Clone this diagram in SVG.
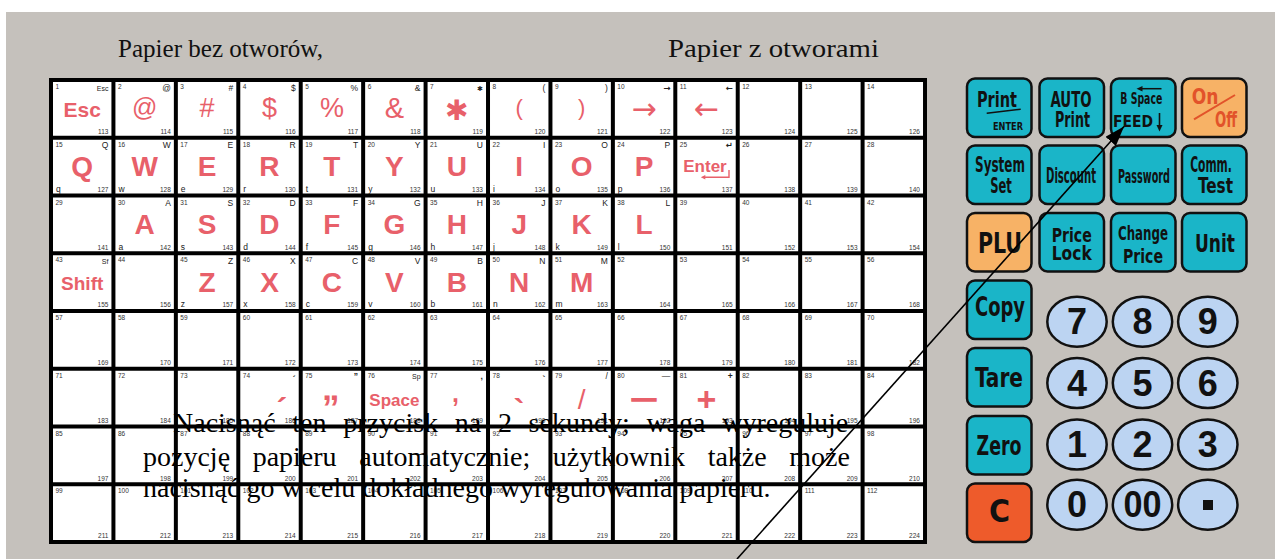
<svg xmlns="http://www.w3.org/2000/svg" xmlns:xlink="http://www.w3.org/1999/xlink" width="1275" height="559" viewBox="0 0 1275 559">
<style>
.n{font-family:'Liberation Sans',Arial,sans-serif;font-size:6.5px;fill:#333}
.e{text-anchor:end}
.t{font-family:'Liberation Sans',Arial,sans-serif;font-size:8.5px;fill:#222;text-anchor:end}
.l{font-family:'Liberation Sans',Arial,sans-serif;font-size:8.5px;fill:#222}
.b{font-family:'Liberation Sans',Arial,sans-serif;font-weight:bold;font-size:28px;fill:#e8606a;text-anchor:middle}
.s{font-family:'Liberation Sans',Arial,sans-serif;font-size:27px;fill:#e8606a;text-anchor:middle}
.d{font-family:'DejaVu Sans',sans-serif;fill:#e8606a;text-anchor:middle}
.ttl{font-family:'Liberation Serif','Times New Roman',serif;font-size:25px;fill:#111}
.para{font-family:'Liberation Serif','Times New Roman',serif;font-size:28px;fill:#000}
.btn{stroke:#111;stroke-width:2.5}
.cy{fill:#1ab5c8}
.or{fill:#f7b266}
.rd{fill:#ee5b2b}
.bt{font-family:'Liberation Sans Narrow','DejaVu Sans Condensed','Liberation Sans',sans-serif;font-weight:bold;fill:#111;text-anchor:middle}
.num{fill:#bcd4f2;stroke:#111;stroke-width:2.5}
.dg{font-family:'Liberation Sans',Arial,sans-serif;font-weight:bold;font-size:36px;fill:#111;text-anchor:middle}
.con{stroke:#000;stroke-width:1.6;fill:none}
</style>
<defs>
<rect id="cb" x="2" y="2" width="58.43" height="53.75" fill="#fff"/>
<marker id="ah" markerUnits="userSpaceOnUse" markerWidth="22" markerHeight="16" refX="20" refY="7" orient="auto">
<path d="M0,0 L20,7 L0,14 z" fill="#000"/>
</marker>
</defs>
<rect x="0" y="0" width="1275" height="559" fill="#fff"/>
<rect x="6" y="12" width="1269" height="547" fill="#c5c1bc"/>
<text class="ttl" x="118" y="57" textLength="205" lengthAdjust="spacingAndGlyphs">Papier bez otworów,</text>
<text class="ttl" x="668" y="57" textLength="211" lengthAdjust="spacingAndGlyphs">Papier z otworami</text>
<rect x="49" y="78" width="878" height="466" fill="#000"/>
<g id="keys">
<g id="k1" transform="translate(51,80)"><use href="#cb"/><text class="n" x="4.5" y="9">1</text><text class="n e" x="57.4" y="54">113</text><text class="t" x="57.4" y="10.5" style="font-size:7px">Esc</text><text class="b" x="31.2" y="36.7" style="font-size:21px">Esc</text></g>
<g id="k2" transform="translate(113.43,80)"><use href="#cb"/><text class="n" x="4.5" y="9">2</text><text class="n e" x="57.4" y="54">114</text><text class="t" x="57.4" y="10.5">@</text><text class="s" x="31.2" y="36" style="font-size:25px">@</text></g>
<g id="k3" transform="translate(175.86,80)"><use href="#cb"/><text class="n" x="4.5" y="9">3</text><text class="n e" x="57.4" y="54">115</text><text class="t" x="57.4" y="10.5">#</text><text class="s" x="31.2" y="36.7">#</text></g>
<g id="k4" transform="translate(238.29,80)"><use href="#cb"/><text class="n" x="4.5" y="9">4</text><text class="n e" x="57.4" y="54">116</text><text class="t" x="57.4" y="10.5">$</text><text class="s" x="31.2" y="37">$</text></g>
<g id="k5" transform="translate(300.72,80)"><use href="#cb"/><text class="n" x="4.5" y="9">5</text><text class="n e" x="57.4" y="54">117</text><text class="t" x="57.4" y="10.5">%</text><text class="s" x="31.2" y="36.7">%</text></g>
<g id="k6" transform="translate(363.15,80)"><use href="#cb"/><text class="n" x="4.5" y="9">6</text><text class="n e" x="57.4" y="54">118</text><text class="t" x="57.4" y="10.5">&amp;</text><text class="s" x="31.2" y="38" style="font-size:29px">&amp;</text></g>
<g id="k7" transform="translate(425.58,80)"><use href="#cb"/><text class="n" x="4.5" y="9">7</text><text class="n e" x="57.4" y="54">119</text><text class="t" x="57.4" y="10.5" style="font-family:'DejaVu Sans';font-size:7px">✱</text><text class="d" x="31.2" y="40" style="font-size:28px">✱</text></g>
<g id="k8" transform="translate(488.01,80)"><use href="#cb"/><text class="n" x="4.5" y="9">8</text><text class="n e" x="57.4" y="54">120</text><text class="t" x="57.4" y="10.5">(</text><text class="s" x="31.2" y="35.4" style="font-size:22px">(</text></g>
<g id="k9" transform="translate(550.44,80)"><use href="#cb"/><text class="n" x="4.5" y="9">9</text><text class="n e" x="57.4" y="54">121</text><text class="t" x="57.4" y="10.5">)</text><text class="s" x="31.2" y="35.4" style="font-size:22px">)</text></g>
<g id="k10" transform="translate(612.87,80)"><use href="#cb"/><text class="n" x="4.5" y="9">10</text><text class="n e" x="57.4" y="54">122</text><text class="t" x="57.4" y="10.5" style="font-family:'DejaVu Sans';font-weight:bold">→</text><text class="d" x="31.2" y="39" style="font-size:30px">→</text></g>
<g id="k11" transform="translate(675.3,80)"><use href="#cb"/><text class="n" x="4.5" y="9">11</text><text class="n e" x="57.4" y="54">123</text><text class="t" x="57.4" y="10.5" style="font-family:'DejaVu Sans';font-weight:bold">←</text><text class="d" x="31.2" y="39" style="font-size:30px">←</text></g>
<g id="k12" transform="translate(737.73,80)"><use href="#cb"/><text class="n" x="4.5" y="9">12</text><text class="n e" x="57.4" y="54">124</text></g>
<g id="k13" transform="translate(800.16,80)"><use href="#cb"/><text class="n" x="4.5" y="9">13</text><text class="n e" x="57.4" y="54">125</text></g>
<g id="k14" transform="translate(862.59,80)"><use href="#cb"/><text class="n" x="4.5" y="9">14</text><text class="n e" x="57.4" y="54">126</text></g>

<g id="k15" transform="translate(51,137.75)"><use href="#cb"/><text class="n" x="4.5" y="9">15</text><text class="n e" x="57.4" y="54">127</text><text class="t" x="57.4" y="10.5">Q</text><text class="l" x="5" y="54">q</text><text class="b" x="31.2" y="38.5">Q</text></g>
<g id="k16" transform="translate(113.43,137.75)"><use href="#cb"/><text class="n" x="4.5" y="9">16</text><text class="n e" x="57.4" y="54">128</text><text class="t" x="57.4" y="10.5">W</text><text class="l" x="5" y="54">w</text><text class="b" x="31.2" y="38.5">W</text></g>
<g id="k17" transform="translate(175.86,137.75)"><use href="#cb"/><text class="n" x="4.5" y="9">17</text><text class="n e" x="57.4" y="54">129</text><text class="t" x="57.4" y="10.5">E</text><text class="l" x="5" y="54">e</text><text class="b" x="31.2" y="38.5">E</text></g>
<g id="k18" transform="translate(238.29,137.75)"><use href="#cb"/><text class="n" x="4.5" y="9">18</text><text class="n e" x="57.4" y="54">130</text><text class="t" x="57.4" y="10.5">R</text><text class="l" x="5" y="54">r</text><text class="b" x="31.2" y="38.5">R</text></g>
<g id="k19" transform="translate(300.72,137.75)"><use href="#cb"/><text class="n" x="4.5" y="9">19</text><text class="n e" x="57.4" y="54">131</text><text class="t" x="57.4" y="10.5">T</text><text class="l" x="5" y="54">t</text><text class="b" x="31.2" y="38.5">T</text></g>
<g id="k20" transform="translate(363.15,137.75)"><use href="#cb"/><text class="n" x="4.5" y="9">20</text><text class="n e" x="57.4" y="54">132</text><text class="t" x="57.4" y="10.5">Y</text><text class="l" x="5" y="54">y</text><text class="b" x="31.2" y="38.5">Y</text></g>
<g id="k21" transform="translate(425.58,137.75)"><use href="#cb"/><text class="n" x="4.5" y="9">21</text><text class="n e" x="57.4" y="54">133</text><text class="t" x="57.4" y="10.5">U</text><text class="l" x="5" y="54">u</text><text class="b" x="31.2" y="38.5">U</text></g>
<g id="k22" transform="translate(488.01,137.75)"><use href="#cb"/><text class="n" x="4.5" y="9">22</text><text class="n e" x="57.4" y="54">134</text><text class="t" x="57.4" y="10.5">I</text><text class="l" x="5" y="54">i</text><text class="b" x="31.2" y="38.5">I</text></g>
<g id="k23" transform="translate(550.44,137.75)"><use href="#cb"/><text class="n" x="4.5" y="9">23</text><text class="n e" x="57.4" y="54">135</text><text class="t" x="57.4" y="10.5">O</text><text class="l" x="5" y="54">o</text><text class="b" x="31.2" y="38.5">O</text></g>
<g id="k24" transform="translate(612.87,137.75)"><use href="#cb"/><text class="n" x="4.5" y="9">24</text><text class="n e" x="57.4" y="54">136</text><text class="t" x="57.4" y="10.5">P</text><text class="l" x="5" y="54">p</text><text class="b" x="31.2" y="38.5">P</text></g>
<g id="k25" transform="translate(675.3,137.75)"><use href="#cb"/><text class="n" x="4.5" y="9">25</text><text class="n e" x="57.4" y="54">137</text><text class="t" x="57.4" y="10.5" style="font-family:'DejaVu Sans';font-weight:bold">↵</text><text class="b" x="29.7" y="34" style="font-size:17px">Enter</text><path d="M28,39.5 H53.7 V32.3" fill="none" stroke="#e8606a" stroke-width="1.4"/><path d="M25.5,39.5 L30,37.3 L30,41.7 z" fill="#e8606a"/></g>
<g id="k26" transform="translate(737.73,137.75)"><use href="#cb"/><text class="n" x="4.5" y="9">26</text><text class="n e" x="57.4" y="54">138</text></g>
<g id="k27" transform="translate(800.16,137.75)"><use href="#cb"/><text class="n" x="4.5" y="9">27</text><text class="n e" x="57.4" y="54">139</text></g>
<g id="k28" transform="translate(862.59,137.75)"><use href="#cb"/><text class="n" x="4.5" y="9">28</text><text class="n e" x="57.4" y="54">140</text></g>

<g id="k29" transform="translate(51,195.5)"><use href="#cb"/><text class="n" x="4.5" y="9">29</text><text class="n e" x="57.4" y="54">141</text></g>
<g id="k30" transform="translate(113.43,195.5)"><use href="#cb"/><text class="n" x="4.5" y="9">30</text><text class="n e" x="57.4" y="54">142</text><text class="t" x="57.4" y="10.5">A</text><text class="l" x="5" y="54">a</text><text class="b" x="31.2" y="38.5">A</text></g>
<g id="k31" transform="translate(175.86,195.5)"><use href="#cb"/><text class="n" x="4.5" y="9">31</text><text class="n e" x="57.4" y="54">143</text><text class="t" x="57.4" y="10.5">S</text><text class="l" x="5" y="54">s</text><text class="b" x="31.2" y="38.5">S</text></g>
<g id="k32" transform="translate(238.29,195.5)"><use href="#cb"/><text class="n" x="4.5" y="9">32</text><text class="n e" x="57.4" y="54">144</text><text class="t" x="57.4" y="10.5">D</text><text class="l" x="5" y="54">d</text><text class="b" x="31.2" y="38.5">D</text></g>
<g id="k33" transform="translate(300.72,195.5)"><use href="#cb"/><text class="n" x="4.5" y="9">33</text><text class="n e" x="57.4" y="54">145</text><text class="t" x="57.4" y="10.5">F</text><text class="l" x="5" y="54">f</text><text class="b" x="31.2" y="38.5">F</text></g>
<g id="k34" transform="translate(363.15,195.5)"><use href="#cb"/><text class="n" x="4.5" y="9">34</text><text class="n e" x="57.4" y="54">146</text><text class="t" x="57.4" y="10.5">G</text><text class="l" x="5" y="54">g</text><text class="b" x="31.2" y="38.5">G</text></g>
<g id="k35" transform="translate(425.58,195.5)"><use href="#cb"/><text class="n" x="4.5" y="9">35</text><text class="n e" x="57.4" y="54">147</text><text class="t" x="57.4" y="10.5">H</text><text class="l" x="5" y="54">h</text><text class="b" x="31.2" y="38.5">H</text></g>
<g id="k36" transform="translate(488.01,195.5)"><use href="#cb"/><text class="n" x="4.5" y="9">36</text><text class="n e" x="57.4" y="54">148</text><text class="t" x="57.4" y="10.5">J</text><text class="l" x="5" y="54">j</text><text class="b" x="31.2" y="38.5">J</text></g>
<g id="k37" transform="translate(550.44,195.5)"><use href="#cb"/><text class="n" x="4.5" y="9">37</text><text class="n e" x="57.4" y="54">149</text><text class="t" x="57.4" y="10.5">K</text><text class="l" x="5" y="54">k</text><text class="b" x="31.2" y="38.5">K</text></g>
<g id="k38" transform="translate(612.87,195.5)"><use href="#cb"/><text class="n" x="4.5" y="9">38</text><text class="n e" x="57.4" y="54">150</text><text class="t" x="57.4" y="10.5">L</text><text class="l" x="5" y="54">l</text><text class="b" x="31.2" y="38.5">L</text></g>
<g id="k39" transform="translate(675.3,195.5)"><use href="#cb"/><text class="n" x="4.5" y="9">39</text><text class="n e" x="57.4" y="54">151</text></g>
<g id="k40" transform="translate(737.73,195.5)"><use href="#cb"/><text class="n" x="4.5" y="9">40</text><text class="n e" x="57.4" y="54">152</text></g>
<g id="k41" transform="translate(800.16,195.5)"><use href="#cb"/><text class="n" x="4.5" y="9">41</text><text class="n e" x="57.4" y="54">153</text></g>
<g id="k42" transform="translate(862.59,195.5)"><use href="#cb"/><text class="n" x="4.5" y="9">42</text><text class="n e" x="57.4" y="54">154</text></g>

<g id="k43" transform="translate(51,253.25)"><use href="#cb"/><text class="n" x="4.5" y="9">43</text><text class="n e" x="57.4" y="54">155</text><text class="t" x="57.4" y="10.5" style="font-size:7px">Sf</text><text class="b" x="31.2" y="36.7" style="font-size:19px">Shift</text></g>
<g id="k44" transform="translate(113.43,253.25)"><use href="#cb"/><text class="n" x="4.5" y="9">44</text><text class="n e" x="57.4" y="54">156</text></g>
<g id="k45" transform="translate(175.86,253.25)"><use href="#cb"/><text class="n" x="4.5" y="9">45</text><text class="n e" x="57.4" y="54">157</text><text class="t" x="57.4" y="10.5">Z</text><text class="l" x="5" y="54">z</text><text class="b" x="31.2" y="38.5">Z</text></g>
<g id="k46" transform="translate(238.29,253.25)"><use href="#cb"/><text class="n" x="4.5" y="9">46</text><text class="n e" x="57.4" y="54">158</text><text class="t" x="57.4" y="10.5">X</text><text class="l" x="5" y="54">x</text><text class="b" x="31.2" y="38.5">X</text></g>
<g id="k47" transform="translate(300.72,253.25)"><use href="#cb"/><text class="n" x="4.5" y="9">47</text><text class="n e" x="57.4" y="54">159</text><text class="t" x="57.4" y="10.5">C</text><text class="l" x="5" y="54">c</text><text class="b" x="31.2" y="38.5">C</text></g>
<g id="k48" transform="translate(363.15,253.25)"><use href="#cb"/><text class="n" x="4.5" y="9">48</text><text class="n e" x="57.4" y="54">160</text><text class="t" x="57.4" y="10.5">V</text><text class="l" x="5" y="54">v</text><text class="b" x="31.2" y="38.5">V</text></g>
<g id="k49" transform="translate(425.58,253.25)"><use href="#cb"/><text class="n" x="4.5" y="9">49</text><text class="n e" x="57.4" y="54">161</text><text class="t" x="57.4" y="10.5">B</text><text class="l" x="5" y="54">b</text><text class="b" x="31.2" y="38.5">B</text></g>
<g id="k50" transform="translate(488.01,253.25)"><use href="#cb"/><text class="n" x="4.5" y="9">50</text><text class="n e" x="57.4" y="54">162</text><text class="t" x="57.4" y="10.5">N</text><text class="l" x="5" y="54">n</text><text class="b" x="31.2" y="38.5">N</text></g>
<g id="k51" transform="translate(550.44,253.25)"><use href="#cb"/><text class="n" x="4.5" y="9">51</text><text class="n e" x="57.4" y="54">163</text><text class="t" x="57.4" y="10.5">M</text><text class="l" x="5" y="54">m</text><text class="b" x="31.2" y="38.5">M</text></g>
<g id="k52" transform="translate(612.87,253.25)"><use href="#cb"/><text class="n" x="4.5" y="9">52</text><text class="n e" x="57.4" y="54">164</text></g>
<g id="k53" transform="translate(675.3,253.25)"><use href="#cb"/><text class="n" x="4.5" y="9">53</text><text class="n e" x="57.4" y="54">165</text></g>
<g id="k54" transform="translate(737.73,253.25)"><use href="#cb"/><text class="n" x="4.5" y="9">54</text><text class="n e" x="57.4" y="54">166</text></g>
<g id="k55" transform="translate(800.16,253.25)"><use href="#cb"/><text class="n" x="4.5" y="9">55</text><text class="n e" x="57.4" y="54">167</text></g>
<g id="k56" transform="translate(862.59,253.25)"><use href="#cb"/><text class="n" x="4.5" y="9">56</text><text class="n e" x="57.4" y="54">168</text></g>

<g id="k57" transform="translate(51,311)"><use href="#cb"/><text class="n" x="4.5" y="9">57</text><text class="n e" x="57.4" y="54">169</text></g>
<g id="k58" transform="translate(113.43,311)"><use href="#cb"/><text class="n" x="4.5" y="9">58</text><text class="n e" x="57.4" y="54">170</text></g>
<g id="k59" transform="translate(175.86,311)"><use href="#cb"/><text class="n" x="4.5" y="9">59</text><text class="n e" x="57.4" y="54">171</text></g>
<g id="k60" transform="translate(238.29,311)"><use href="#cb"/><text class="n" x="4.5" y="9">60</text><text class="n e" x="57.4" y="54">172</text></g>
<g id="k61" transform="translate(300.72,311)"><use href="#cb"/><text class="n" x="4.5" y="9">61</text><text class="n e" x="57.4" y="54">173</text></g>
<g id="k62" transform="translate(363.15,311)"><use href="#cb"/><text class="n" x="4.5" y="9">62</text><text class="n e" x="57.4" y="54">174</text></g>
<g id="k63" transform="translate(425.58,311)"><use href="#cb"/><text class="n" x="4.5" y="9">63</text><text class="n e" x="57.4" y="54">175</text></g>
<g id="k64" transform="translate(488.01,311)"><use href="#cb"/><text class="n" x="4.5" y="9">64</text><text class="n e" x="57.4" y="54">176</text></g>
<g id="k65" transform="translate(550.44,311)"><use href="#cb"/><text class="n" x="4.5" y="9">65</text><text class="n e" x="57.4" y="54">177</text></g>
<g id="k66" transform="translate(612.87,311)"><use href="#cb"/><text class="n" x="4.5" y="9">66</text><text class="n e" x="57.4" y="54">178</text></g>
<g id="k67" transform="translate(675.3,311)"><use href="#cb"/><text class="n" x="4.5" y="9">67</text><text class="n e" x="57.4" y="54">179</text></g>
<g id="k68" transform="translate(737.73,311)"><use href="#cb"/><text class="n" x="4.5" y="9">68</text><text class="n e" x="57.4" y="54">180</text></g>
<g id="k69" transform="translate(800.16,311)"><use href="#cb"/><text class="n" x="4.5" y="9">69</text><text class="n e" x="57.4" y="54">181</text></g>
<g id="k70" transform="translate(862.59,311)"><use href="#cb"/><text class="n" x="4.5" y="9">70</text><text class="n e" x="57.4" y="54">182</text></g>

<g id="k71" transform="translate(51,368.75)"><use href="#cb"/><text class="n" x="4.5" y="9">71</text><text class="n e" x="57.4" y="54">183</text></g>
<g id="k72" transform="translate(113.43,368.75)"><use href="#cb"/><text class="n" x="4.5" y="9">72</text><text class="n e" x="57.4" y="54">184</text></g>
<g id="k73" transform="translate(175.86,368.75)"><use href="#cb"/><text class="n" x="4.5" y="9">73</text><text class="n e" x="57.4" y="54">185</text></g>
<g id="k74" transform="translate(238.29,368.75)"><use href="#cb"/><text class="n" x="4.5" y="9">74</text><text class="n e" x="57.4" y="54">186</text><text class="t" x="57.4" y="13" style="font-weight:bold">´</text><text class="b" x="43.5" y="51" style="font-size:32px">´</text></g>
<g id="k75" transform="translate(300.72,368.75)"><use href="#cb"/><text class="n" x="4.5" y="9">75</text><text class="n e" x="57.4" y="54">187</text><text class="t" x="57.4" y="10.5" style="font-weight:bold">”</text><text class="b" x="30" y="31" style="font-size:35px">„</text></g>
<g id="k76" transform="translate(363.15,368.75)"><use href="#cb"/><text class="n" x="4.5" y="9">76</text><text class="n e" x="57.4" y="54">188</text><text class="t" x="57.4" y="10.5" style="font-size:7px">Sp</text><text class="b" x="31.2" y="37.3" style="font-size:17px">Space</text></g>
<g id="k77" transform="translate(425.58,368.75)"><use href="#cb"/><text class="n" x="4.5" y="9">77</text><text class="n e" x="57.4" y="54">189</text><text class="t" x="57.4" y="10.5" style="font-weight:bold">,</text><text class="b" x="30" y="33.5" style="font-size:25px">,</text></g>
<g id="k78" transform="translate(488.01,368.75)"><use href="#cb"/><text class="n" x="4.5" y="9">78</text><text class="n e" x="57.4" y="54">190</text><text class="t" x="57.4" y="13" style="font-weight:bold">`</text><text class="b" x="31.2" y="52" style="font-size:32px">`</text></g>
<g id="k79" transform="translate(550.44,368.75)"><use href="#cb"/><text class="n" x="4.5" y="9">79</text><text class="n e" x="57.4" y="54">191</text><text class="t" x="57.4" y="10.5">/</text><text class="s" x="31.2" y="40" style="font-size:28px">/</text></g>
<g id="k80" transform="translate(612.87,368.75)"><use href="#cb"/><text class="n" x="4.5" y="9">80</text><text class="n e" x="57.4" y="54">192</text><text class="t" x="57.4" y="10.5">—</text><text class="b" x="31.2" y="37" style="font-size:24px;stroke:#e8606a;stroke-width:1.4">—</text></g>
<g id="k81" transform="translate(675.3,368.75)"><use href="#cb"/><text class="n" x="4.5" y="9">81</text><text class="n e" x="57.4" y="54">193</text><text class="t" x="57.4" y="10.5" style="font-weight:bold">+</text><text class="b" x="31.2" y="42" style="font-size:34px">+</text></g>
<g id="k82" transform="translate(737.73,368.75)"><use href="#cb"/><text class="n" x="4.5" y="9">82</text><text class="n e" x="57.4" y="54">194</text></g>
<g id="k83" transform="translate(800.16,368.75)"><use href="#cb"/><text class="n" x="4.5" y="9">83</text><text class="n e" x="57.4" y="54">195</text></g>
<g id="k84" transform="translate(862.59,368.75)"><use href="#cb"/><text class="n" x="4.5" y="9">84</text><text class="n e" x="57.4" y="54">196</text></g>

<g id="k85" transform="translate(51,426.5)"><use href="#cb"/><text class="n" x="4.5" y="9">85</text><text class="n e" x="57.4" y="54">197</text></g>
<g id="k86" transform="translate(113.43,426.5)"><use href="#cb"/><text class="n" x="4.5" y="9">86</text><text class="n e" x="57.4" y="54">198</text></g>
<g id="k87" transform="translate(175.86,426.5)"><use href="#cb"/><text class="n" x="4.5" y="9">87</text><text class="n e" x="57.4" y="54">199</text></g>
<g id="k88" transform="translate(238.29,426.5)"><use href="#cb"/><text class="n" x="4.5" y="9">88</text><text class="n e" x="57.4" y="54">200</text></g>
<g id="k89" transform="translate(300.72,426.5)"><use href="#cb"/><text class="n" x="4.5" y="9">89</text><text class="n e" x="57.4" y="54">201</text></g>
<g id="k90" transform="translate(363.15,426.5)"><use href="#cb"/><text class="n" x="4.5" y="9">90</text><text class="n e" x="57.4" y="54">202</text></g>
<g id="k91" transform="translate(425.58,426.5)"><use href="#cb"/><text class="n" x="4.5" y="9">91</text><text class="n e" x="57.4" y="54">203</text></g>
<g id="k92" transform="translate(488.01,426.5)"><use href="#cb"/><text class="n" x="4.5" y="9">92</text><text class="n e" x="57.4" y="54">204</text></g>
<g id="k93" transform="translate(550.44,426.5)"><use href="#cb"/><text class="n" x="4.5" y="9">93</text><text class="n e" x="57.4" y="54">205</text></g>
<g id="k94" transform="translate(612.87,426.5)"><use href="#cb"/><text class="n" x="4.5" y="9">94</text><text class="n e" x="57.4" y="54">206</text></g>
<g id="k95" transform="translate(675.3,426.5)"><use href="#cb"/><text class="n" x="4.5" y="9">95</text><text class="n e" x="57.4" y="54">207</text></g>
<g id="k96" transform="translate(737.73,426.5)"><use href="#cb"/><text class="n" x="4.5" y="9">96</text><text class="n e" x="57.4" y="54">208</text></g>
<g id="k97" transform="translate(800.16,426.5)"><use href="#cb"/><text class="n" x="4.5" y="9">97</text><text class="n e" x="57.4" y="54">209</text></g>
<g id="k98" transform="translate(862.59,426.5)"><use href="#cb"/><text class="n" x="4.5" y="9">98</text><text class="n e" x="57.4" y="54">210</text></g>

<g id="k99" transform="translate(51,484.25)"><use href="#cb"/><text class="n" x="4.5" y="9">99</text><text class="n e" x="57.4" y="54">211</text></g>
<g id="k100" transform="translate(113.43,484.25)"><use href="#cb"/><text class="n" x="4.5" y="9">100</text><text class="n e" x="57.4" y="54">212</text></g>
<g id="k101" transform="translate(175.86,484.25)"><use href="#cb"/><text class="n" x="4.5" y="9">101</text><text class="n e" x="57.4" y="54">213</text></g>
<g id="k102" transform="translate(238.29,484.25)"><use href="#cb"/><text class="n" x="4.5" y="9">102</text><text class="n e" x="57.4" y="54">214</text></g>
<g id="k103" transform="translate(300.72,484.25)"><use href="#cb"/><text class="n" x="4.5" y="9">103</text><text class="n e" x="57.4" y="54">215</text></g>
<g id="k104" transform="translate(363.15,484.25)"><use href="#cb"/><text class="n" x="4.5" y="9">104</text><text class="n e" x="57.4" y="54">216</text></g>
<g id="k105" transform="translate(425.58,484.25)"><use href="#cb"/><text class="n" x="4.5" y="9">105</text><text class="n e" x="57.4" y="54">217</text></g>
<g id="k106" transform="translate(488.01,484.25)"><use href="#cb"/><text class="n" x="4.5" y="9">106</text><text class="n e" x="57.4" y="54">218</text></g>
<g id="k107" transform="translate(550.44,484.25)"><use href="#cb"/><text class="n" x="4.5" y="9">107</text><text class="n e" x="57.4" y="54">219</text></g>
<g id="k108" transform="translate(612.87,484.25)"><use href="#cb"/><text class="n" x="4.5" y="9">108</text><text class="n e" x="57.4" y="54">220</text></g>
<g id="k109" transform="translate(675.3,484.25)"><use href="#cb"/><text class="n" x="4.5" y="9">109</text><text class="n e" x="57.4" y="54">221</text></g>
<g id="k110" transform="translate(737.73,484.25)"><use href="#cb"/><text class="n" x="4.5" y="9">110</text><text class="n e" x="57.4" y="54">222</text></g>
<g id="k111" transform="translate(800.16,484.25)"><use href="#cb"/><text class="n" x="4.5" y="9">111</text><text class="n e" x="57.4" y="54">223</text></g>
<g id="k112" transform="translate(862.59,484.25)"><use href="#cb"/><text class="n" x="4.5" y="9">112</text><text class="n e" x="57.4" y="54">224</text></g>
</g>

<g id="note">
<text class="para" x="173" y="432" style="word-spacing:9.7px">Nacisnąć ten przycisk na 2 sekundy; waga wyreguluje</text>
<text class="para" x="143" y="466" style="word-spacing:15.6px">pozycję papieru automatycznie; użytkownik także może</text>
<text class="para" x="143" y="497">nacisnąć go w celu dokładnego wyregulowania papieru.</text>
</g>

<g id="buttons">
<g id="b-print"><rect class="btn cy" x="967" y="78.5" width="64.5" height="58.5" rx="8"/><text class="bt" x="997" y="107" font-size="22" textLength="40" lengthAdjust="spacingAndGlyphs">Print</text><line x1="986.7" y1="113.3" x2="1020.7" y2="109.3" stroke="#111" stroke-width="1.5"/><text class="bt" x="1008" y="129.5" font-size="10" textLength="30" lengthAdjust="spacingAndGlyphs">ENTER</text></g>
<g id="b-auto"><rect class="btn cy" x="1039.5" y="78.5" width="64.5" height="58.5" rx="8"/><text class="bt" x="1071" y="106.5" font-size="21" textLength="41" lengthAdjust="spacingAndGlyphs">AUTO</text><text class="bt" x="1072.5" y="126.5" font-size="21" textLength="35" lengthAdjust="spacingAndGlyphs">Print</text></g>
<g id="b-feed"><rect class="btn cy" x="1111" y="78.5" width="64.5" height="58.5" rx="8"/><line x1="1141" y1="88.7" x2="1161.5" y2="88.7" stroke="#111" stroke-width="1.5"/><path d="M1136.5,88.7 L1142.5,86 L1142.5,91.4 z" fill="#111"/><text class="bt" x="1141.3" y="104" font-size="15.5" textLength="42" lengthAdjust="spacingAndGlyphs">B Space</text><text class="bt" x="1133" y="126.5" font-size="15.5" textLength="40" lengthAdjust="spacingAndGlyphs">FEED</text><line x1="1159.5" y1="113" x2="1159.5" y2="126" stroke="#111" stroke-width="1.6"/><path d="M1159.5,131.5 L1156.5,125 L1162.5,125 z" fill="#111"/></g>
<g id="b-onoff"><rect class="btn or" x="1182" y="78.5" width="64.5" height="58.5" rx="8"/><text class="bt" x="1205" y="104" font-size="22" textLength="26.7" lengthAdjust="spacingAndGlyphs" style="fill:#e2532a">On</text><line x1="1194" y1="119.3" x2="1235" y2="95" stroke="#e2532a" stroke-width="2"/><text class="bt" x="1226" y="126.5" font-size="22" textLength="22" lengthAdjust="spacingAndGlyphs" style="fill:#e2532a">Off</text></g>
<g id="b-system"><rect class="btn cy" x="967" y="145.5" width="64.5" height="58.5" rx="8"/><text class="bt" x="1000" y="171.5" font-size="21" textLength="50" lengthAdjust="spacingAndGlyphs">System</text><text class="bt" x="1001" y="193.3" font-size="21" textLength="21.7" lengthAdjust="spacingAndGlyphs">Set</text></g>
<g id="b-discount"><rect class="btn cy" x="1039.5" y="145.5" width="64.5" height="58.5" rx="8"/><text class="bt" x="1071" y="183" font-size="21" textLength="50" lengthAdjust="spacingAndGlyphs">Discount</text></g>
<g id="b-password"><rect class="btn cy" x="1111" y="145.5" width="64.5" height="58.5" rx="8"/><text class="bt" x="1144" y="183" font-size="19" textLength="52" lengthAdjust="spacingAndGlyphs">Password</text></g>
<g id="b-comm"><rect class="btn cy" x="1182" y="145.5" width="64.5" height="58.5" rx="8"/><text class="bt" x="1211" y="171.5" font-size="21" textLength="41.7" lengthAdjust="spacingAndGlyphs">Comm.</text><text class="bt" x="1215.5" y="193" font-size="21" textLength="35" lengthAdjust="spacingAndGlyphs">Test</text></g>
<g id="b-plu"><rect class="btn or" x="967" y="213" width="64.5" height="58.5" rx="8"/><text class="bt" x="1000" y="253" font-size="29" textLength="44" lengthAdjust="spacingAndGlyphs">PLU</text></g>
<g id="b-pricelock"><rect class="btn cy" x="1039.5" y="213" width="64.5" height="58.5" rx="8"/><text class="bt" x="1071.7" y="241.7" font-size="20" textLength="40" lengthAdjust="spacingAndGlyphs">Price</text><text class="bt" x="1071.7" y="260" font-size="20" textLength="40" lengthAdjust="spacingAndGlyphs">Lock</text></g>
<g id="b-changeprice"><rect class="btn cy" x="1111" y="213" width="64.5" height="58.5" rx="8"/><text class="bt" x="1143" y="240" font-size="20" textLength="50" lengthAdjust="spacingAndGlyphs">Change</text><text class="bt" x="1143" y="263.3" font-size="20" textLength="40" lengthAdjust="spacingAndGlyphs">Price</text></g>
<g id="b-unit"><rect class="btn cy" x="1182" y="213" width="64.5" height="58.5" rx="8"/><text class="bt" x="1215" y="251.7" font-size="25" textLength="40" lengthAdjust="spacingAndGlyphs">Unit</text></g>
<g id="b-copy"><rect class="btn cy" x="967" y="280.5" width="64.5" height="58.5" rx="8"/><text class="bt" x="1000" y="316" font-size="26" textLength="50" lengthAdjust="spacingAndGlyphs">Copy</text></g>
<g id="b-tare"><rect class="btn cy" x="967" y="348" width="64.5" height="58.5" rx="8"/><text class="bt" x="999" y="387" font-size="26" textLength="48" lengthAdjust="spacingAndGlyphs">Tare</text></g>
<g id="b-zero"><rect class="btn cy" x="967" y="416" width="64.5" height="58.5" rx="8"/><text class="bt" x="999" y="455" font-size="26" textLength="45" lengthAdjust="spacingAndGlyphs">Zero</text></g>
<g id="b-c"><rect class="btn rd" x="967" y="483.5" width="64.5" height="58.5" rx="8"/><text class="bt" x="999.5" y="521.7" font-size="32" textLength="21" lengthAdjust="spacingAndGlyphs">C</text></g>
<g id="n7"><ellipse class="num" cx="1077" cy="321.7" rx="29.7" ry="25"/><text class="dg" x="1077" y="334">7</text></g>
<g id="n8"><ellipse class="num" cx="1142.5" cy="321.7" rx="29.7" ry="25"/><text class="dg" x="1142.5" y="334">8</text></g>
<g id="n9"><ellipse class="num" cx="1207.8" cy="321.7" rx="29.7" ry="25"/><text class="dg" x="1207.8" y="334">9</text></g>
<g id="n4"><ellipse class="num" cx="1077" cy="383" rx="29.7" ry="25"/><text class="dg" x="1077" y="395.5">4</text></g>
<g id="n5"><ellipse class="num" cx="1142.5" cy="383" rx="29.7" ry="25"/><text class="dg" x="1142.5" y="395.5">5</text></g>
<g id="n6"><ellipse class="num" cx="1207.8" cy="383" rx="29.7" ry="25"/><text class="dg" x="1207.8" y="395.5">6</text></g>
<g id="n1"><ellipse class="num" cx="1077" cy="444.5" rx="29.7" ry="25"/><text class="dg" x="1077" y="457">1</text></g>
<g id="n2"><ellipse class="num" cx="1142.5" cy="444.5" rx="29.7" ry="25"/><text class="dg" x="1142.5" y="457">2</text></g>
<g id="n3"><ellipse class="num" cx="1207.8" cy="444.5" rx="29.7" ry="25"/><text class="dg" x="1207.8" y="457">3</text></g>
<g id="n0"><ellipse class="num" cx="1077" cy="504.7" rx="29.7" ry="25"/><text class="dg" x="1077" y="517">0</text></g>
<g id="n00"><ellipse class="num" cx="1142.5" cy="504.7" rx="29.7" ry="25"/><text class="dg" x="1142.5" y="517" textLength="38" lengthAdjust="spacingAndGlyphs">00</text></g>
<g id="ndot"><ellipse class="num" cx="1207.8" cy="504.7" rx="29.7" ry="25"/><rect x="1203" y="500" width="10" height="10" fill="#111"/></g>
</g>

<g id="connectors">
<line class="con" x1="737" y1="559" x2="1124" y2="126.5" marker-end="url(#ah)"/>
</g>
</svg>
